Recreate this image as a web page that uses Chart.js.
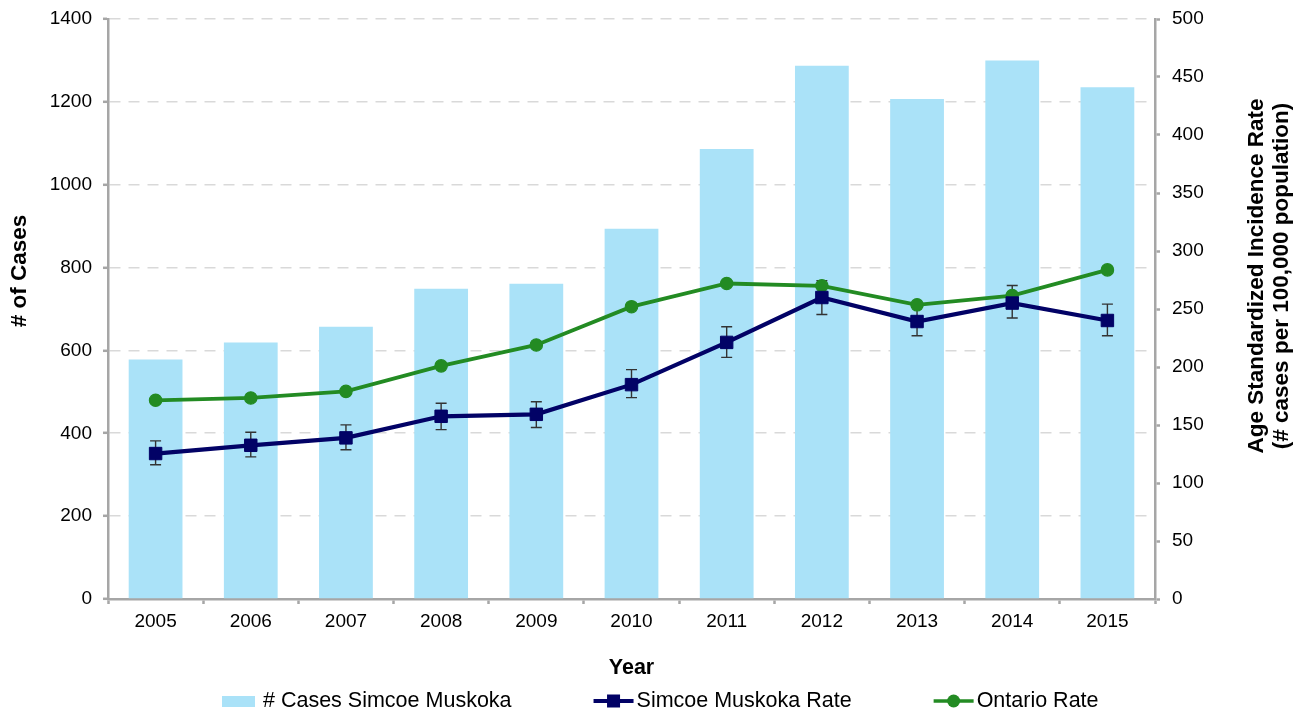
<!DOCTYPE html>
<html>
<head>
<meta charset="utf-8">
<script src="https://cdn.jsdelivr.net/npm/chart.js@4.4.1/dist/chart.umd.min.js"></script>
<style>
  html, body { margin: 0; padding: 0; background: #ffffff; }
  #wrap { width: 1302px; height: 713px; position: relative; }
</style>
</head>
<body>
<div id="wrap"><canvas id="c" width="1302" height="713"></canvas></div>
<script>
// ---- data ----
const years = ['2005','2006','2007','2008','2009','2010','2011','2012','2013','2014','2015'];
const casesSimcoeMuskoka = [578, 619, 657, 749, 761, 894, 1086, 1287, 1207, 1300, 1235];
const rateSimcoeMuskoka = [125.4, 132.5, 138.9, 157.5, 159.2, 184.8, 221.2, 259.9, 239.2, 255.1, 240.1];
const rateSimcoeMuskokaLower = [115.7, 122.5, 128.6, 146.0, 147.8, 173.6, 208.3, 245.3, 226.9, 242.2, 226.9];
const rateSimcoeMuskokaUpper = [136.3, 143.7, 150.1, 168.7, 170.1, 197.7, 234.7, 274.5, 251.5, 270.2, 254.2];
const rateOntario = [171.3, 173.3, 179.0, 201.0, 219.0, 252.0, 272.0, 270.0, 253.6, 261.6, 283.7];
const leftTicks = { min: 0, max: 1400, step: 200 };
const rightTicks = { min: 0, max: 500, step: 50 };

const labelLeftTitle = '# of Cases';
const labelRightTitle = ['Age Standardized Incidence Rate', '(# cases per 100,000 population)'];
const labelXTitle = 'Year';
const legendLabels = ['# Cases Simcoe Muskoka', 'Simcoe Muskoka Rate', 'Ontario Rate'];

// ---- styles ----
const FONT = '"Liberation Sans", Arial, Helvetica, sans-serif';
const BAR_COLOR = 'rgb(170,226,248)';
const NAVY = '#020266';
const GREEN = '#238B23';
const AXIS_GRAY = '#A6A6A6';
const GRID_GRAY = '#D9D9D9';

Chart.defaults.font.family = FONT;
Chart.defaults.color = '#000';

const errorBarPlugin = {
  id: 'errorBars',
  afterDatasetDraw(chart, args) {
    if (args.index !== 0) return;
    const ctx = chart.ctx;
    const xs = chart.scales.x, ys = chart.scales.y1;
    ctx.save();
    ctx.strokeStyle = '#333';
    ctx.lineWidth = 1.4;
    for (let i = 0; i < years.length; i++) {
      const x = xs.getPixelForValue(i);
      const yl = ys.getPixelForValue(rateSimcoeMuskokaLower[i]);
      const yu = ys.getPixelForValue(rateSimcoeMuskokaUpper[i]);
      ctx.beginPath();
      ctx.moveTo(x, yl); ctx.lineTo(x, yu);
      ctx.moveTo(x - 5.5, yl); ctx.lineTo(x + 5.5, yl);
      ctx.moveTo(x - 5.5, yu); ctx.lineTo(x + 5.5, yu);
      ctx.stroke();
    }
    ctx.restore();
  }
};

const titlesLegendPlugin = {
  id: 'titlesLegend',
  afterDraw(chart) {
    const ctx = chart.ctx;
    ctx.save();
    ctx.fillStyle = '#000';
    // left axis title
    ctx.font = 'bold 22.5px ' + FONT;
    ctx.textAlign = 'center';
    ctx.textBaseline = 'middle';
    ctx.save();
    ctx.translate(20, 271);
    ctx.rotate(-Math.PI / 2);
    ctx.fillText(labelLeftTitle, 0, 0);
    ctx.restore();
    // right axis title (two lines, reading bottom to top)
    ctx.save();
    ctx.translate(1257, 276);
    ctx.rotate(-Math.PI / 2);
    ctx.fillText(labelRightTitle[0], 0, 0);
    ctx.fillText(labelRightTitle[1], 0, 25);
    ctx.restore();

    // legend
    const ly = 701;
    ctx.font = '21.5px ' + FONT;
    ctx.textAlign = 'left';
    ctx.textBaseline = 'middle';
    let x = 222;
    ctx.fillStyle = BAR_COLOR;
    ctx.fillRect(x, ly - 5, 33, 11);
    ctx.fillStyle = '#000';
    ctx.fillText(legendLabels[0], x + 41, ly);
    x += 41 + ctx.measureText(legendLabels[0]).width + 82;
    // navy line
    ctx.strokeStyle = NAVY; ctx.lineWidth = 4;
    ctx.beginPath(); ctx.moveTo(x, ly); ctx.lineTo(x + 40, ly); ctx.stroke();
    ctx.fillStyle = NAVY;
    ctx.fillRect(x + 20 - 6.5, ly - 6.5, 13, 13);
    ctx.fillStyle = '#000';
    ctx.fillText(legendLabels[1], x + 43, ly);
    x += 43 + ctx.measureText(legendLabels[1]).width + 82;
    // green line
    ctx.strokeStyle = GREEN; ctx.lineWidth = 3.5;
    ctx.beginPath(); ctx.moveTo(x, ly); ctx.lineTo(x + 40, ly); ctx.stroke();
    ctx.fillStyle = GREEN;
    ctx.beginPath(); ctx.arc(x + 20, ly, 6.5, 0, Math.PI * 2); ctx.fill();
    ctx.fillStyle = '#000';
    ctx.fillText(legendLabels[2], x + 43, ly);
    ctx.restore();
  }
};

const plainTick = (v) => String(v);

new Chart(document.getElementById('c'), {
  data: {
    labels: years,
    datasets: [
      {
        type: 'bar',
        label: legendLabels[0],
        data: casesSimcoeMuskoka,
        backgroundColor: BAR_COLOR,
        borderWidth: 0,
        yAxisID: 'y',
        categoryPercentage: 1.0,
        barPercentage: 0.565,
        order: 3
      },
      {
        type: 'line',
        label: legendLabels[2],
        data: rateOntario,
        borderColor: GREEN,
        backgroundColor: GREEN,
        borderWidth: 3.8,
        pointStyle: 'circle',
        pointRadius: 6.2,
        pointBorderWidth: 1.2,
        pointBackgroundColor: GREEN,
        pointBorderColor: GREEN,
        tension: 0,
        yAxisID: 'y1',
        order: 2
      },
      {
        type: 'line',
        label: legendLabels[1],
        data: rateSimcoeMuskoka,
        borderColor: NAVY,
        backgroundColor: NAVY,
        borderWidth: 4.2,
        pointStyle: 'rect',
        pointRadius: 8.8,
        pointBorderWidth: 1,
        pointBackgroundColor: NAVY,
        pointBorderColor: NAVY,
        tension: 0,
        yAxisID: 'y1',
        order: 1
      }
    ]
  },
  options: {
    responsive: false,
    animation: false,
    devicePixelRatio: 1,
    layout: { padding: { top: 19, left: 0, right: 0, bottom: 0 } },
    plugins: {
      legend: { display: false },
      tooltip: { enabled: false }
    },
    scales: {
      x: {
        type: 'category',
        offset: true,
        grid: {
          display: true,
          drawOnChartArea: false,
          drawTicks: true,
          tickLength: 5,
          tickColor: AXIS_GRAY,
          tickWidth: 2.5,
          offset: true
        },
        border: { display: true, color: AXIS_GRAY, width: 2.5 },
        ticks: { font: { size: 19 }, color: '#000', padding: 6, maxRotation: 0 },
        title: {
          display: true,
          text: labelXTitle,
          font: { size: 21.5, weight: 'bold' },
          color: '#000',
          padding: { top: 0, bottom: 32 }
        },
        afterFit(scale) { scale.height = 114; scale.paddingLeft = 0; scale.paddingRight = 0; }
      },
      y: {
        type: 'linear',
        position: 'left',
        min: leftTicks.min,
        max: leftTicks.max,
        ticks: { stepSize: leftTicks.step, font: { size: 19 }, color: '#000', padding: 11, callback: plainTick },
        grid: {
          color: GRID_GRAY,
          lineWidth: 1.6,
          drawTicks: true,
          tickLength: 5,
          tickColor: AXIS_GRAY,
          tickWidth: 2.5,
          tickBorderDash: []
        },
        border: { display: true, color: AXIS_GRAY, width: 2.5, dash: [11, 8] },
        afterFit(scale) { scale.width = 108; scale.paddingTop = 0; scale.paddingBottom = 0; }
      },
      y1: {
        type: 'linear',
        position: 'right',
        min: rightTicks.min,
        max: rightTicks.max,
        ticks: { stepSize: rightTicks.step, font: { size: 19 }, color: '#000', padding: 12, callback: plainTick },
        grid: {
          drawOnChartArea: false,
          drawTicks: true,
          tickLength: 5,
          tickColor: AXIS_GRAY,
          tickWidth: 2.5
        },
        border: { display: true, color: AXIS_GRAY, width: 2.5 },
        afterFit(scale) { scale.width = 147; scale.paddingTop = 0; scale.paddingBottom = 0; }
      }
    }
  },
  plugins: [errorBarPlugin, titlesLegendPlugin]
});
</script>
</body>
</html>
